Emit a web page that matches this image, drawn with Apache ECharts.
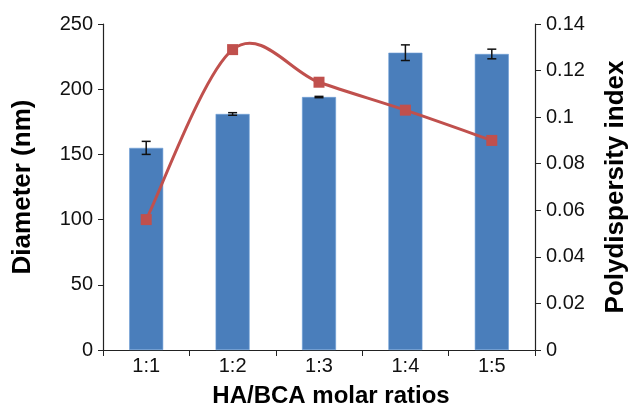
<!DOCTYPE html>
<html>
<head>
<meta charset="utf-8">
<script src="https://cdn.jsdelivr.net/npm/echarts@6/dist/echarts.min.js"></script>
<style>html,body{margin:0;padding:0;background:#fff}#c{width:635px;height:411px}</style>
</head>
<body>
<div id="c"></div>
<script>
const categories = ['1:1', '1:2', '1:3', '1:4', '1:5'];
const diameter = [155, 181, 194, 228, 227];
const diameterErr = [5, 1, 0.5, 6, 3.7];
const pdi = [0.056, 0.129, 0.115, 0.103, 0.090];
const leftTicks = [0, 50, 100, 150, 200, 250];
const rightTicks = [0, 0.02, 0.04, 0.06, 0.08, 0.1, 0.12, 0.14];

const chart = echarts.init(document.getElementById('c'));
const font = 'Liberation Sans, Arial, sans-serif';
const errData = categories.map((c, i) => [i, diameter[i] - diameterErr[i], diameter[i] + diameterErr[i]]);
const pdiData = pdi.map((v, i) => [i, v]);

chart.setOption({
  animation: false,
  grid: { left: 103, right: 100, top: 24, bottom: 61, containLabel: false, outerBoundsMode: 'none' },
  xAxis: {
    type: 'category',
    data: categories,
    name: 'HA/BCA molar ratios',
    nameLocation: 'middle',
    nameGap: 34,
    nameTextStyle: { fontFamily: font, fontSize: 24, fontWeight: 'bold', color: '#000', padding: [0, 0, 0, 24] },
    axisLine: { lineStyle: { color: '#222', width: 1.2 } },
    axisTick: { show: true, alignWithLabel: false, length: 6, lineStyle: { color: '#222' } },
    axisLabel: { fontFamily: font, fontSize: 20, color: '#111', margin: 6 }
  },
  yAxis: [{
    type: 'value', min: leftTicks[0], max: leftTicks[leftTicks.length - 1], interval: 50,
    name: 'Diameter (nm)', nameLocation: 'middle', nameGap: 67,
    nameTextStyle: { fontFamily: font, fontSize: 26, fontWeight: 'bold', color: '#000' },
    axisLine: { show: true, lineStyle: { color: '#222', width: 1.2 } },
    axisTick: { show: true, length: 5, lineStyle: { color: '#222' } },
    axisLabel: { fontFamily: font, fontSize: 20, color: '#111', margin: 10 },
    splitLine: { show: false }
  }, {
    type: 'value', min: rightTicks[0], max: rightTicks[rightTicks.length - 1], interval: 0.02,
    position: 'right',
    name: 'Polydispersity index', nameLocation: 'middle', nameGap: 68,
    nameTextStyle: { fontFamily: font, fontSize: 26, fontWeight: 'bold', color: '#000' },
    axisLine: { show: true, lineStyle: { color: '#222', width: 1.2 } },
    axisTick: { show: true, length: 6, lineStyle: { color: '#222' } },
    axisLabel: { fontFamily: font, fontSize: 20, color: '#111', margin: 11 },
    splitLine: { show: false }
  }],
  series: [{
    type: 'bar',
    data: diameter,
    barWidth: 34,
    itemStyle: { color: '#4a7ebb', borderColor: '#6f9fd6', borderWidth: 0.6 },
    z: 2
  }, {
    type: 'custom',
    data: errData,
    z: 4,
    renderItem: function (params, api) {
      const x = api.coord([api.value(0), 0])[0];
      const lo = api.coord([api.value(0), api.value(1)])[1];
      const hi = api.coord([api.value(0), api.value(2)])[1];
      const hw = 4.5;
      const st = { stroke: '#111', lineWidth: 1.5 };
      return { type: 'group', children: [
        { type: 'line', shape: { x1: x, y1: lo, x2: x, y2: hi }, style: st },
        { type: 'line', shape: { x1: x - hw, y1: lo, x2: x + hw, y2: lo }, style: st },
        { type: 'line', shape: { x1: x - hw, y1: hi, x2: x + hw, y2: hi }, style: st }
      ] };
    }
  }, {
    // Excel-style smoothed curve (Catmull-Rom) through the PDI points
    type: 'custom',
    yAxisIndex: 1,
    data: pdiData,
    z: 5,
    clip: false,
    renderItem: function (params, api) {
      if (params.dataIndex !== 0) return null;
      const P = pdiData.map(d => api.coord(d));
      let d = 'M' + P[0][0] + ' ' + P[0][1];
      for (let i = 0; i < P.length - 1; i++) {
        const p0 = P[Math.max(i - 1, 0)], p1 = P[i], p2 = P[i + 1], p3 = P[Math.min(i + 2, P.length - 1)];
        const c1 = [p1[0] + (p2[0] - p0[0]) / 6, p1[1] + (p2[1] - p0[1]) / 6];
        const c2 = [p2[0] - (p3[0] - p1[0]) / 6, p2[1] - (p3[1] - p1[1]) / 6];
        d += ' C' + c1[0] + ' ' + c1[1] + ' ' + c2[0] + ' ' + c2[1] + ' ' + p2[0] + ' ' + p2[1];
      }
      return { type: 'path', shape: { pathData: d }, style: { fill: 'none', stroke: '#c0504d', lineWidth: 3 } };
    }
  }, {
    type: 'line',
    yAxisIndex: 1,
    data: pdi,
    symbol: 'rect',
    symbolSize: 11,
    lineStyle: { width: 0, opacity: 0 },
    itemStyle: { color: '#c0504d' },
    z: 6
  }]
});
</script>
</body>
</html>
